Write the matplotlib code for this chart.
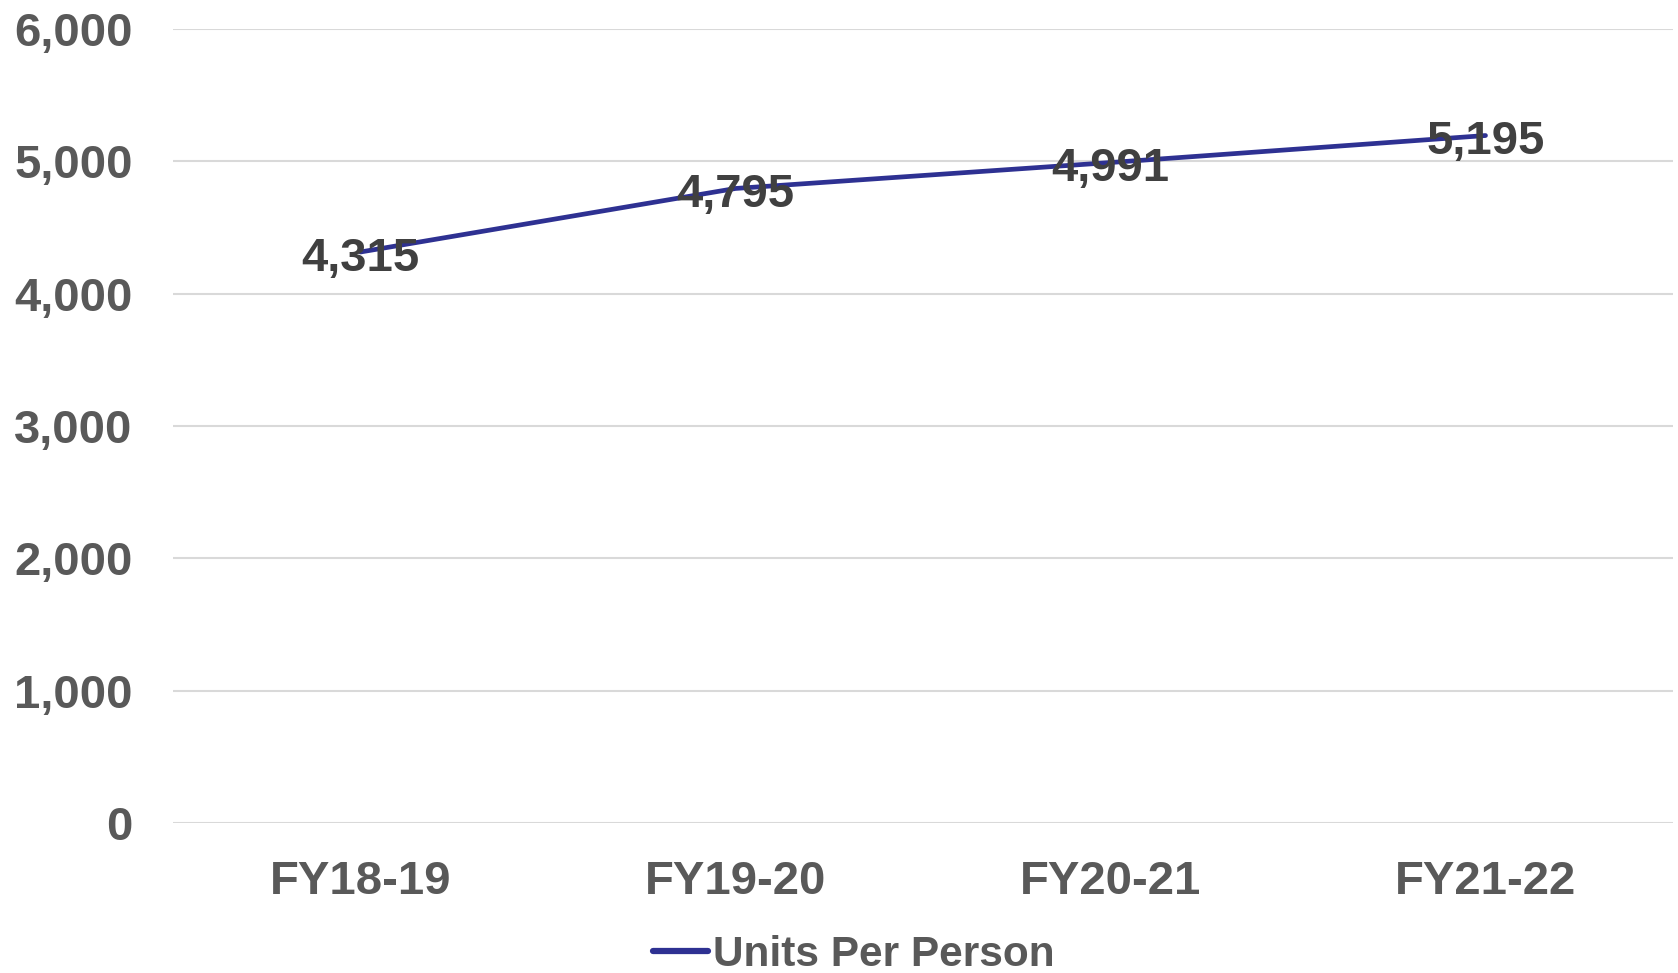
import matplotlib
matplotlib.use("Agg")
import matplotlib.pyplot as plt
from matplotlib.lines import Line2D
from matplotlib.ticker import FuncFormatter

categories = ["FY18-19", "FY19-20", "FY20-21", "FY21-22"]
units_per_person = [4315, 4795, 4991, 5195]
series_name = "Units Per Person"
y_ticks = [0, 1000, 2000, 3000, 4000, 5000, 6000]

plt.rcParams["font.family"] = ["Liberation Sans", "DejaVu Sans"]
plt.rcParams["font.weight"] = "bold"

line_color = "#2E3192"

fig = plt.figure(figsize=(16.78, 9.73), dpi=100)
ax = fig.add_axes([173 / 1678, 1 - 823 / 973, 1500 / 1678, (823 - 29) / 973])

x = list(range(len(categories)))
ax.plot(x, units_per_person, color=line_color, linewidth=3.4,
        solid_capstyle="round", zorder=3)

for xi, v in zip(x, units_per_person):
    ax.annotate(f"{v:,}", (xi, v), xytext=(0, -5), textcoords="offset points",
                ha="center", va="center", fontsize=34,
                fontweight="bold", color="#404040", zorder=4)

ax.set_xlim(-0.5, len(categories) - 0.5)
ax.set_ylim(0, 6000)
ax.set_yticks(y_ticks)
ax.yaxis.set_major_formatter(FuncFormatter(lambda v, p: f"{int(v):,}"))
ax.set_xticks(x)
ax.set_xticklabels(categories)

ax.grid(axis="y", color="#D9D9D9", linewidth=1.5, zorder=0)
ax.set_axisbelow(True)
for s in ax.spines.values():
    s.set_visible(False)

ax.tick_params(axis="both", length=0, labelsize=34, labelcolor="#595959")
ax.tick_params(axis="y", pad=29)
ax.tick_params(axis="x", pad=27)
for lbl in ax.get_xticklabels() + ax.get_yticklabels():
    lbl.set_fontweight("bold")

legend_handle = Line2D([], [], color=line_color, linewidth=4.5,
                       solid_capstyle="round")
fig.legend(handles=[legend_handle], labels=[series_name], loc="center",
           bbox_to_anchor=(0.509, 1 - 955 / 973), frameon=False,
           handlelength=1.3, handletextpad=0.12, borderpad=0.2,
           labelcolor="#595959", prop={"weight": "bold", "size": 30.5})

fig.savefig("out.png", dpi=100)
